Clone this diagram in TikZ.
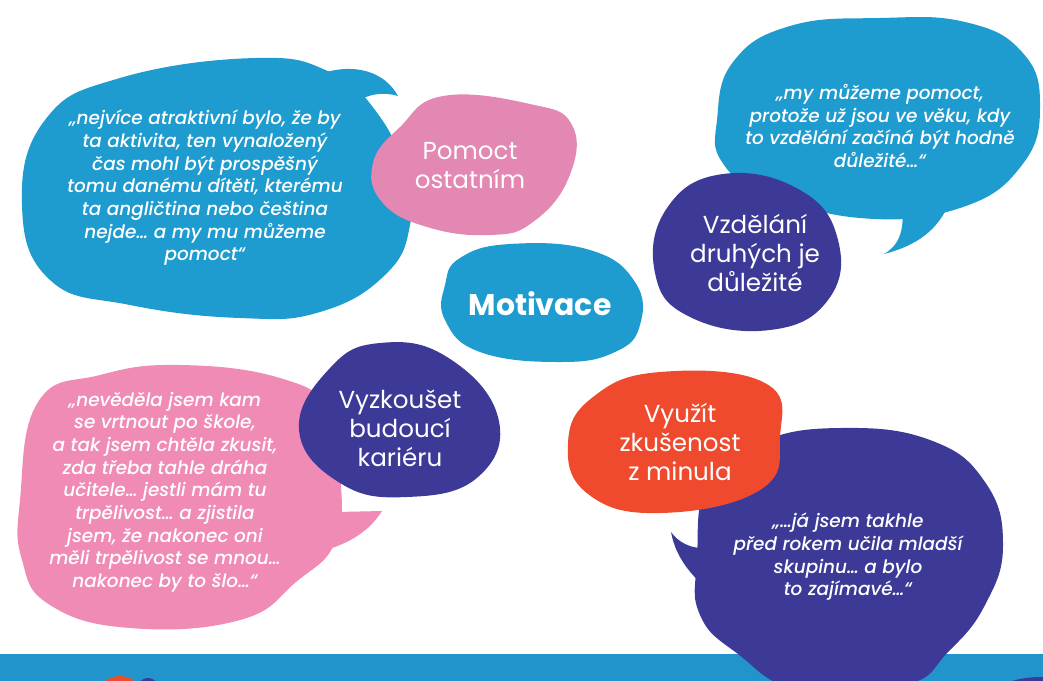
\documentclass[tikz,border=0pt]{standalone}
\usepackage{fontspec}
\setmainfont{Poppins}
\newfontfamily\quotefont{Poppins}[UprightFont=* Medium Italic]
\usepackage{xcolor}
\usetikzlibrary{positioning}

\definecolor{bubbleblue}{HTML}{1E9BCF}
\definecolor{bandblue}{HTML}{2194CB}
\definecolor{topicpink}{HTML}{E288B3}
\definecolor{quotepink}{HTML}{F08BB6}
\definecolor{deeppurple}{HTML}{3C3A96}
\definecolor{hotorange}{HTML}{F04A2E}

\begin{document}
\begin{tikzpicture}[x=0.02cm, y=-0.02cm,
    blob/.style={smooth cycle, tension=0.75},
    quote/.style={text=white, align=center, font=\fontsize{10.5}{12.9}\selectfont\quotefont},
    topic/.style={text=white, align=center, font=\fontsize{14}{16.5}\selectfont},
    core/.style={text=white, align=center, font=\fontsize{17}{20}\selectfont\bfseries}
]
\useasboundingbox (0,0) rectangle (1043,680);
\clip (0,0) rectangle (1043,680);

% Bottom band
\fill[bandblue] (0,654) rectangle (1043,690);
\fill[hotorange] (120,700) circle[radius=24];
\fill[deeppurple] (148,702) ellipse[x radius=15, y radius=24];
\fill[deeppurple] (1040,706) ellipse[x radius=55, y radius=29];

% Left bubble (blue) - quote on helping others
\fill[bubbleblue] plot[blob] coordinates {(22,205) (45,120) (120,78) (255,58) (330,72)
    (375,110) (405,170) (410,225) (385,275) (320,312) (240,318) (130,305) (50,280)};
\fill[bubbleblue] (320,74) .. controls (355,62) and (385,72) .. (398,96)
    .. controls (385,92) and (370,93) .. (356,102) -- cycle;
\node[quote] (quoteHelp) at (205,188) {„nejvíce atraktivní bylo, že by\\ta aktivita, ten vynaložený\\čas mohl být prospěšný\\tomu danému dítěti, kterému\\ta angličtina nebo čeština\\nejde… a my mu můžeme\\pomoct“};

% Pomoct ostatnim (pink)
\fill[topicpink] plot[blob] coordinates {(400,127) (443,96) (530,104) (572,125) (569,177)
    (533,222) (490,235) (427,227) (382,202) (373,163)};
\node[topic] (helpOthers) at (470,166) {Pomoct\\ostatním};

% Motivace (centre)
\fill[bubbleblue] plot[blob] coordinates {(460,258) (510,244) (590,250) (635,282) (640,325)
    (615,352) (560,362) (480,352) (445,320) (445,285)};
\node[core] (motiv) at (540,304) {Motivace};

% Top right bubble (blue)
\fill[bubbleblue] plot[blob] coordinates {(717,120) (733,62) (790,26) (880,18) (965,22)
    (1022,52) (1040,105) (1022,165) (960,208) (860,218) (765,192) (722,162)};
\fill[bubbleblue] (902,205) .. controls (905,232) and (898,246) .. (884,254)
    .. controls (915,246) and (935,232) .. (947,208) -- cycle;
\node[quote] (quoteEdu) at (880,126) {„my můžeme pomoct,\\protože už jsou ve věku, kdy\\to vzdělání začíná být hodně\\důležité…“};

% Vzdelani druhych je dulezite (purple)
\fill[deeppurple] plot[blob] coordinates {(667,208) (723,174) (800,190) (838,240) (828,300)
    (770,330) (690,317) (655,273)};
\node[topic] (eduOthers) at (755,253) {Vzdělání\\druhých je\\důležité};

% Bottom left bubble (pink)
\fill[quotepink] plot[blob] coordinates {(20,500) (38,402) (100,375) (180,365) (280,378)
    (330,410) (340,470) (336,540) (296,582) (240,620) (130,628) (50,605) (22,560)};
\fill[quotepink] (336,512) -- (382,511) .. controls (370,530) and (352,542) .. (326,550) -- cycle;
\node[quote] (quoteCareer) at (165,492) {„nevěděla jsem kam\\se vrtnout po škole,\\a tak jsem chtěla zkusit,\\zda třeba tahle dráha\\učitele… jestli mám tu\\trpělivost… a zjistila\\jsem, že nakonec oni\\měli trpělivost se mnou…\\nakonec by to šlo…“};

% Vyzkouset budouci karieru (purple)
\fill[deeppurple] plot[blob] coordinates {(330,368) (380,343) (447,357) (498,417) (478,477)
    (407,497) (340,483) (299,430)};
\node[topic] (tryCareer) at (400,428) {Vyzkoušet\\budoucí\\kariéru};

% Bottom right bubble (purple)
\fill[deeppurple] plot[blob] coordinates {(697,560) (708,480) (760,442) (840,428) (930,440)
    (985,482) (1003,545) (985,605) (948,652) (905,685) (800,690) (738,654) (700,615)};
\fill[deeppurple] (702,548) .. controls (690,548) and (678,542) .. (671,532)
    .. controls (676,560) and (695,580) .. (716,596) -- cycle;
\node[quote] (quoteExp) at (848,557) {„…já jsem takhle\\před rokem učila mladší\\skupinu… a bylo\\to zajímavé…“};

% Vyuzit zkusenost z minula (orange)
\fill[hotorange] plot[blob] coordinates {(593,397) (660,372) (765,383) (780,437) (760,490)
    (660,513) (588,494) (568,443)};
\node[topic] (useExp) at (680,442) {Využít\\zkušenost\\z minula};

\end{tikzpicture}
\end{document}
